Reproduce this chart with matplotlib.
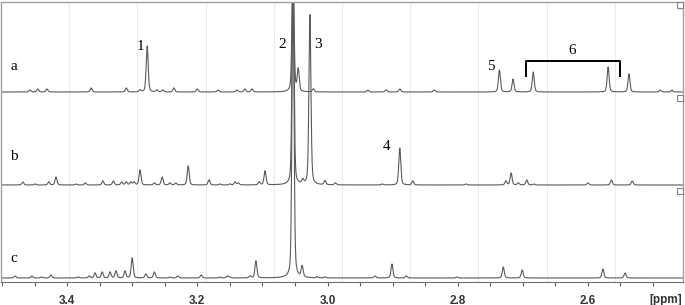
import numpy as np
import matplotlib
matplotlib.use("Agg")
import matplotlib.pyplot as plt
from matplotlib.patches import Rectangle
from matplotlib.ticker import MultipleLocator, FuncFormatter

# peak lists (ppm, intensity in arbitrary units)
a_ppm = [3.457, 3.445, 3.431, 3.363, 3.309, 3.288, 3.277, 3.262, 3.253, 3.236,
         3.200, 3.168, 3.139, 3.127, 3.116, 3.053, 3.045, 3.022, 2.938, 2.910,
         2.889, 2.836, 2.736, 2.715, 2.684, 2.569, 2.537, 2.489, 2.471]
a_int = [2, 3, 3, 4, 4, 2, 46, 2, 2, 4,
         3, 2, 2, 3, 3, 130, 22, 3, 2, 2,
         3, 2, 22, 13, 20, 25, 18, 2, 2]

b_ppm = [3.468, 3.449, 3.428, 3.417, 3.386, 3.372, 3.345, 3.329, 3.316, 3.309,
         3.302, 3.297, 3.288, 3.266, 3.254, 3.242, 3.233, 3.214, 3.182, 3.165,
         3.150, 3.142, 3.137, 3.105, 3.096, 3.053, 3.038, 3.027, 3.004, 2.988,
         2.916, 2.889, 2.869, 2.787, 2.726, 2.718, 2.707, 2.694, 2.683, 2.600,
         2.564, 2.532]
b_int = [3, 1, 3, 8, 1, 2, 4, 4, 3, 3,
         3, 3, 15, 2, 8, 2, 2, 19, 5, 1,
         1, 3, 2, 3, 14, 220, 4, 170, 4, 2,
         1, 37, 4, 1, 4, 12, 2, 5, 1, 2,
         5, 4]

c_ppm = [3.480, 3.454, 3.439, 3.425, 3.383, 3.366, 3.357, 3.346, 3.334, 3.325,
         3.311, 3.300, 3.279, 3.266, 3.242, 3.230, 3.194, 3.165, 3.154, 3.150,
         3.119, 3.110, 3.053, 3.039, 3.016, 3.004, 2.927, 2.901, 2.879, 2.801,
         2.730, 2.701, 2.577, 2.543]
c_int = [2, 2, 1, 3, 1, 2, 5, 6, 6, 7,
         7, 20, 4, 6, 1, 2, 3, 1, 2, 1,
         2, 17, 310, 11, 1, 1, 2, 14, 2, 1,
         11, 8, 9, 5]

trace_names = ["a", "b", "c"]
peak_labels = ["1", "2", "3", "4", "5", "6"]

HW = 0.0018   # half width at half height, ppm
ETA = 0.35    # lorentzian fraction of the line shape


def spectrum(x, pos, hts):
    s = np.zeros_like(x)
    for p, h in zip(pos, hts):
        u = (x - p) / HW
        s += h * (ETA / (1.0 + u ** 2) + (1 - ETA) * np.exp(-np.log(2) * u ** 2))
    return s


x = np.linspace(3.51, 2.445, 8000)

fig = plt.figure(figsize=(6.85, 3.05), dpi=100)
ax = fig.add_axes([1 / 685, 23 / 305, 682 / 685, 280 / 305])

# faint display grid (10 equal divisions of the window)
ax.vlines(np.arange(1, 10) / 10, 0, 1, transform=ax.transAxes,
          color="#e8e8e8", lw=0.6, zorder=0)

offsets = [190, 97, 4]
for pos, hts, off in zip([a_ppm, b_ppm, c_ppm], [a_int, b_int, c_int], offsets):
    ax.plot(x, spectrum(x, pos, hts) + off, color="#5a5a5a", lw=0.8)

ax.set_xlim(3.5015, 2.454)
ax.set_ylim(0, 280)

# trace names
serif = "Liberation Serif"
for name, yy in zip(trace_names, [215, 126, 24]):
    ax.text(3.482, yy, name, fontsize=11, family=serif, ha="center", va="center")

# peak numbers
lab_pos = [(3.288, 235), (3.070, 237), (3.015, 237), (2.909, 135), (2.749, 215), (2.624, 232)]
for lab, (px, py) in zip(peak_labels, lab_pos):
    ax.text(px, py, lab, fontsize=11, family=serif, ha="center", va="center")

# bracket for 6
ax.plot([2.695, 2.695, 2.551, 2.551], [206, 221, 221, 206], color="black", lw=1.4)

# axes styling
for side in ["top", "left", "right"]:
    ax.spines[side].set_color("#a0a0a0")
    ax.spines[side].set_linewidth(1.0)
ax.spines["bottom"].set_color("#707070")
ax.yaxis.set_visible(False)

ax.xaxis.set_major_locator(MultipleLocator(0.2))
ax.xaxis.set_minor_locator(MultipleLocator(0.05))
ax.xaxis.set_major_formatter(FuncFormatter(lambda v, p: "%.1f" % v))
ax.tick_params(axis="x", which="both", direction="out", length=3, width=0.8,
               color="#606060", pad=6)
for lbl in ax.get_xticklabels():
    lbl.set_family("Liberation Sans")
    lbl.set_fontweight("bold")
    lbl.set_fontsize(8.5)
    lbl.set_color("#333333")

ax.text(0.975, -0.065, "[ppm]", transform=ax.transAxes, ha="center", va="center",
        family="Liberation Sans", fontweight="bold", fontsize=8.5, color="#333333")

# small trace markers at the right edge
for yy in [2, 95, 188]:
    fig.patches.append(Rectangle((677 / 685, 1 - (yy + 6) / 305), 6 / 685, 6 / 305,
                                 transform=fig.transFigure, fill=True, facecolor="white",
                                 edgecolor="#808080", lw=0.8))

fig.savefig("out.png", dpi=100)
